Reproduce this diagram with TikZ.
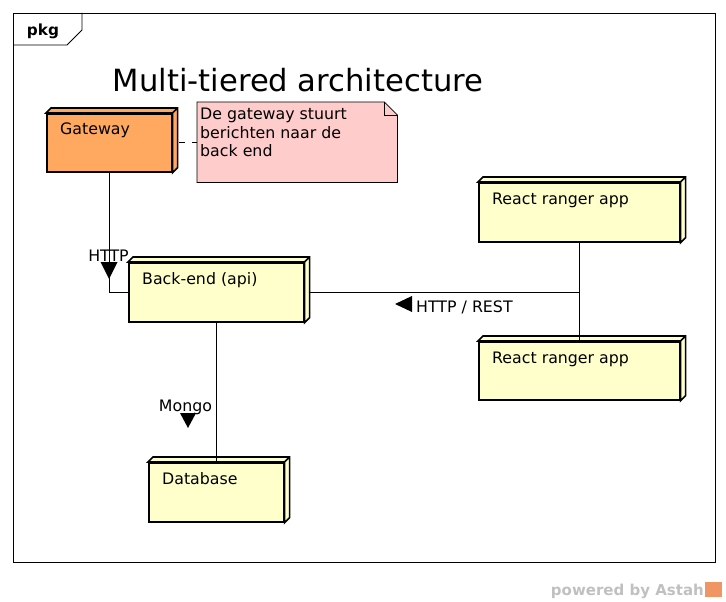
\documentclass[tikz,border=0pt]{standalone}
\usepackage{fontspec}
\setmainfont{DejaVu Sans}
\usepackage{tikz}
\usetikzlibrary{backgrounds}
\definecolor{gatewayorange}{RGB}{255,168,96}
\definecolor{tieryellow}{RGB}{255,255,204}
\definecolor{notepink}{RGB}{255,204,204}
\definecolor{astahgray}{RGB}{192,192,192}
\definecolor{astahorange}{RGB}{240,150,100}

% depth faces of a node box
\newcommand{\tierdepth}[2]{%
  \draw[line width=1.6pt, fill=#2] (#1.north west) -- ++(5,-5)
    -- ([shift={(5,-5)}]#1.north east) -- ([shift={(5,-5)}]#1.south east)
    -- (#1.south east) -- (#1.north east) -- cycle
    (#1.north east) -- ++(5,-5);}

\begin{document}
\begin{tikzpicture}[
  x=1pt, y=-1pt,
  tier/.style={draw, line width=1.6pt, fill=#1, anchor=north west, inner sep=0pt},
  tiertext/.style={anchor=base west, inner sep=0pt, xshift=14pt, yshift=-22pt, font=\fontsize{15.8}{18.5}\selectfont},
  notetext/.style={anchor=north west, align=left, inner sep=0pt, xshift=3pt, yshift=-6pt, font=\fontsize{15.8}{18.5}\selectfont},
  linktext/.style={inner sep=0pt, font=\fontsize{15.8}{18.5}\selectfont},
  wire/.style={line width=0.9pt},
  frame/.style={line width=0.8pt}
]
\useasboundingbox (0,0) rectangle (726,602);

%% package frame
\draw[frame] (13,13) rectangle (715,562);
\draw[frame] (13,45) -- (67,45) -- (82,30) -- (82,13);
\node[anchor=base, font=\bfseries\fontsize{15.3}{18}\selectfont] (pkg) at (43,36) {pkg};

\node[anchor=base, font=\fontsize{30.6}{36}\selectfont] (title) at (298,92) {Multi-tiered architecture};

%% nodes
\node[tier=gatewayorange, minimum width=125, minimum height=58,
  label={[tiertext]north west:Gateway}] (gw) at (46,113) {};
\tierdepth{gw}{gatewayorange}
\node[tier=tieryellow, minimum width=175, minimum height=59,
  label={[tiertext]north west:Back-end (api)}] (be) at (128,262) {};
\tierdepth{be}{tieryellow}
\node[tier=tieryellow, minimum width=201, minimum height=59,
  label={[tiertext]north west:React ranger app}] (ra1) at (478,182) {};
\tierdepth{ra1}{tieryellow}
\node[tier=tieryellow, minimum width=201, minimum height=58,
  label={[tiertext]north west:React ranger app}] (ra2) at (478,341) {};
\tierdepth{ra2}{tieryellow}
\node[tier=tieryellow, minimum width=135, minimum height=59,
  label={[tiertext]north west:Database}] (db) at (148,462) {};
\tierdepth{db}{tieryellow}

%% note
\node[minimum width=200, minimum height=80, anchor=north west, inner sep=0pt,
  label={[notetext]north west:{De gateway stuurt\\berichten naar de\\back end}}] (nt) at (197,102) {};
\begin{scope}[on background layer]
\draw[frame, fill=notepink] (nt.north west) -- ([xshift=-13pt]nt.north east)
  -- ([yshift=-13pt]nt.north east) -- (nt.south east) -- (nt.south west) -- cycle;
\draw[frame] ([xshift=-13pt]nt.north east) -- ++(0,13) -- ([yshift=-13pt]nt.north east);
\end{scope}

%% connectors
\draw[wire, dash pattern=on 6pt off 7pt, dash phase=6.3pt] (gw.east) -- (gw.east -| nt.west);
\draw[wire] (gw.south) |- (be.west);
\draw[wire] ([xshift=5pt]be.east) -- (be.east -| ra1.south);
\draw[wire] (ra1.south) -- (ra2.north);
\draw[wire] (be.south) -- (db.north);

%% connector labels
\node[linktext, anchor=base] (lhttp) at (108.5,261) {HTTP};
\fill ([shift={(-8,1)}]lhttp.base) -- ([shift={(9,1)}]lhttp.base) -- ([shift={(0.5,18)}]lhttp.base) -- cycle;
\node[linktext, anchor=base west] (lrest) at (416,312) {HTTP / REST};
\fill ([shift={(-21,-8)}]lrest.base west) -- ([shift={(-4,-16)}]lrest.base west) -- ([shift={(-4,0)}]lrest.base west) -- cycle;
\node[linktext, anchor=base] (lmongo) at (185.5,411) {Mongo};
\fill ([shift={(-5.5,2)}]lmongo.base) -- ([shift={(10.5,2)}]lmongo.base) -- ([shift={(2.5,17)}]lmongo.base) -- cycle;

%% watermark
\node[anchor=base east, inner sep=0pt, text=astahgray, font=\bfseries\fontsize{15}{18}\selectfont] (powered) at (704,595) {powered by Astah};
\fill[astahorange] (705,582) rectangle (722,597);
\end{tikzpicture}
\end{document}
